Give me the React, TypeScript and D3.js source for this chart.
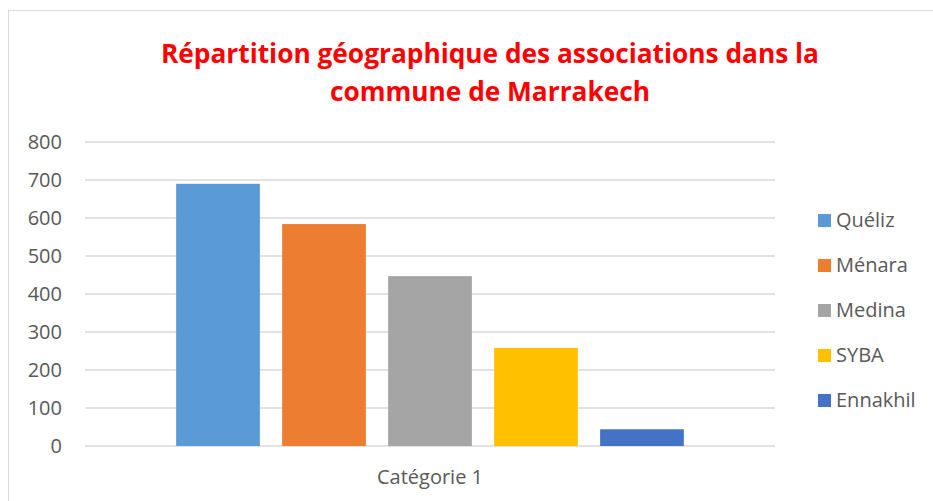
import React from "react";
import * as d3 from "d3";

const title = ["Répartition géographique des associations dans la", "commune de Marrakech"];
const categories = ["Catégorie 1"];
const series = ["Quéliz", "Ménara", "Medina", "SYBA", "Ennakhil"];
const values = [690, 584, 447, 258, 44];
const colors = ["#5B9BD5", "#ED7D31", "#A5A5A5", "#FFC000", "#4472C4"];
const yTicks = [0, 100, 200, 300, 400, 500, 600, 700, 800];

const W = 933;
const H = 501;
const FONT = "'Open Sans', 'Noto Sans', sans-serif";

export default function App() {
  const plot = { left: 85, right: 775, top: 142, bottom: 446 };
  const y = d3.scaleLinear().domain([0, 800]).range([plot.bottom, plot.top]);
  const x0 = d3.scaleBand<string>().domain(categories).range([plot.left, plot.right]).padding(0);
  const x1 = d3
    .scaleBand<string>()
    .domain(series)
    .range([0, x0.bandwidth()])
    .paddingInner(0.21)
    .paddingOuter(0.86);
  const legendY = d3.scalePoint<string>().domain(series).range([220, 400]);

  return (
    <svg
      width={W}
      height={H}
      style={{ position: "absolute", left: 0, top: 0, background: "#fff" }}
      fontFamily={FONT}
    >
      <rect x={8.5} y={10.5} width={W + 10} height={H + 10} fill="#fff" stroke="#d9d9d9" strokeWidth={1} />
      <text x={490} y={63} textAnchor="middle" fill="#FF0000" fontWeight="bold" fontSize={26}
        textLength={658} lengthAdjust="spacingAndGlyphs">{title[0]}</text>
      <text x={490} y={101} textAnchor="middle" fill="#FF0000" fontWeight="bold" fontSize={26}
        textLength={320} lengthAdjust="spacingAndGlyphs">{title[1]}</text>

      {yTicks.map((t) => (
        <g key={t}>
          <line x1={plot.left} x2={plot.right} y1={y(t)} y2={y(t)} stroke="#d9d9d9" strokeWidth={1.3} />
          <text x={62} y={y(t)} dy="0.36em" textAnchor="end" fontSize={20} fill="#595959">{t}</text>
        </g>
      ))}

      {categories.map((c) => (
        <g key={c} transform={`translate(${x0(c)},0)`}>
          {series.map((s, i) => (
            <rect key={s} x={x1(s)} y={y(values[i])} width={x1.bandwidth()} height={y(0) - y(values[i])} fill={colors[i]} />
          ))}
          <text x={x0.bandwidth() / 2} y={484} textAnchor="middle" fontSize={20} fill="#595959">{c}</text>
        </g>
      ))}

      {series.map((s, i) => (
        <g key={s}>
          <rect x={818} y={(legendY(s) as number) - 6} width={13} height={13} fill={colors[i]} />
          <text x={836} y={legendY(s)} dy="0.36em" fontSize={20} fill="#595959">{s}</text>
        </g>
      ))}
    </svg>
  );
}
